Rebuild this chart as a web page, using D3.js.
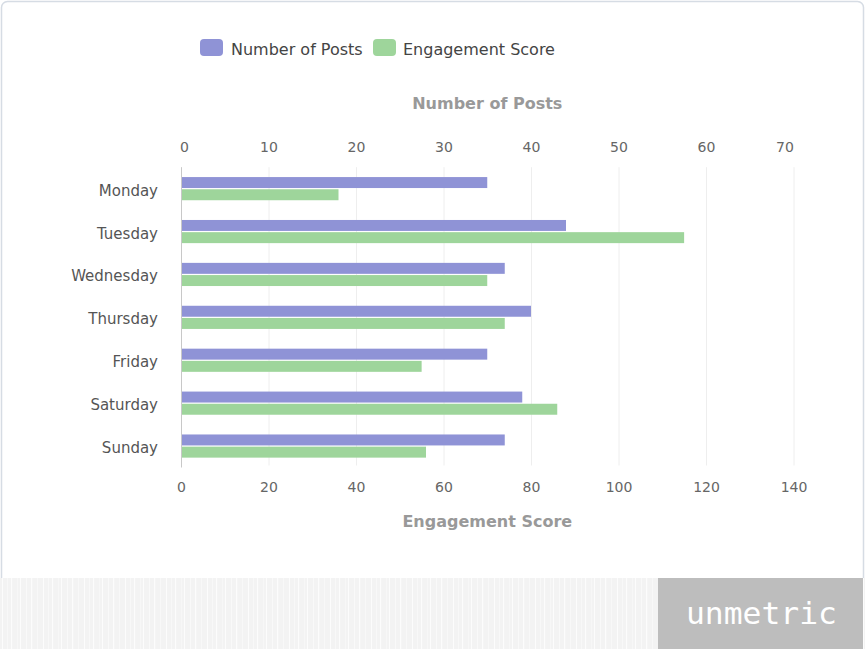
<!DOCTYPE html>
<html>
<head>
<meta charset="utf-8">
<script src="https://cdn.jsdelivr.net/npm/d3@7/dist/d3.min.js"></script>
<style>
  html, body { margin: 0; padding: 0; background: #ffffff; }
  svg { display: block; }
  text { font-family: "DejaVu Sans", "Lucida Grande", Verdana, sans-serif; }
</style>
</head>
<body>
<svg id="chart" width="865" height="649"></svg>
<script>
// ---- data ----
const days = ["Monday", "Tuesday", "Wednesday", "Thursday", "Friday", "Saturday", "Sunday"];
const posts = [35, 44, 37, 40, 35, 39, 37];
const engagement = [36, 115, 70, 74, 55, 86, 56];
const postTicks = [0, 10, 20, 30, 40, 50, 60, 70];
const engTicks = [0, 20, 40, 60, 80, 100, 120, 140];
const seriesNames = ["Number of Posts", "Engagement Score"];
const colors = ["#8f93d6", "#9ed59b"];

const svg = d3.select("#chart");
const W = 865, H = 649;

// ---- frame ----
svg.append("rect")
  .attr("x", 1.5).attr("y", 1.5).attr("width", W - 3).attr("height", 640)
  .attr("rx", 6).attr("fill", "#fff").attr("stroke", "#d6dce4").attr("stroke-width", 1.5);

// ---- bottom strip ----
const defs = svg.append("defs");
const pat = defs.append("pattern").attr("id", "stripes")
  .attr("patternUnits", "userSpaceOnUse").attr("width", 41).attr("height", 80);
pat.append("rect").attr("width", 41).attr("height", 80).attr("fill", "#f3f3f3");
[[2, 1], [7, 0.6], [11, 1.2], [17, 0.5], [20, 1], [26, 0.7], [31, 1.3], [37, 0.6]].forEach(([x, w]) => {
  pat.append("rect").attr("x", x).attr("width", w).attr("height", 80).attr("fill", "#fcfcfc");
});
svg.append("rect").attr("x", 0).attr("y", 578).attr("width", W).attr("height", H - 578)
  .attr("fill", "url(#stripes)");
svg.append("rect").attr("x", 658).attr("y", 578).attr("width", 205).attr("height", H - 578)
  .attr("fill", "#bdbdbd");
svg.append("text").attr("x", 686).attr("y", 624)
  .attr("textLength", 151).attr("lengthAdjust", "spacingAndGlyphs")
  .style("font-family", "'DejaVu Sans Mono', monospace")
  .style("font-size", "31px").attr("fill", "#ffffff").text("unmetric");

// ---- scales ----
const x0 = 181, x1 = 793.5, yTop = 167.2, yBot = 467.5;
const xPosts = d3.scaleLinear().domain([0, 70]).range([x0, x1]);
const xEng = d3.scaleLinear().domain([0, 140]).range([x0, x1]);
const y = d3.scaleBand().domain(days).range([yTop, yBot]).padding(0);
const bw = y.bandwidth();
const ySub = d3.scaleBand().domain([0, 1]).range([bw * 0.23, bw * 0.77]).paddingInner(0.1);

// ---- grid ----
const grid = svg.append("g");
grid.selectAll("line").data(engTicks).join("line")
  .attr("x1", d => xEng(d) + 0.5).attr("x2", d => xEng(d) + 0.5)
  .attr("y1", yTop).attr("y2", yBot - 2)
  .attr("stroke", "#eeeeee").attr("stroke-width", 1);

// ---- bars ----
const rows = days.map((d, i) => ({ day: d, vals: [posts[i], engagement[i]] }));
const g = svg.append("g");
rows.forEach(r => {
  g.append("rect")
    .attr("x", x0).attr("y", y(r.day) + ySub(0))
    .attr("width", xPosts(r.vals[0]) - x0).attr("height", ySub.bandwidth())
    .attr("fill", colors[0]);
  g.append("rect")
    .attr("x", x0).attr("y", y(r.day) + ySub(1))
    .attr("width", xEng(r.vals[1]) - x0).attr("height", ySub.bandwidth())
    .attr("fill", colors[1]);
});

// ---- left axis line ----
svg.append("line").attr("x1", x0 + 0.5).attr("x2", x0 + 0.5).attr("y1", yTop).attr("y2", yBot)
  .attr("stroke", "#c8c8c8").attr("stroke-width", 1);

// ---- category labels ----
svg.append("g").selectAll("text").data(days).join("text")
  .attr("x", 158).attr("y", d => y(d) + bw / 2 + 7)
  .attr("text-anchor", "end").style("font-size", "15px").attr("fill", "#555555")
  .text(d => d);

// ---- top axis (posts) ----
const topAxis = d3.axisTop(xPosts).tickValues(postTicks).tickSize(0).tickPadding(0);
const ta = svg.append("g").attr("transform", "translate(0,152)").call(topAxis);
ta.select(".domain").remove();
ta.selectAll("text").attr("y", 0).attr("dy", 0)
  .style("font-size", "14px").style("font-family", "'DejaVu Sans', sans-serif").attr("fill", "#666666")
  .attr("dx", (d, i) => i === 0 ? 3 : (i === postTicks.length - 1 ? -9 : 0));

// ---- bottom axis (engagement) ----
const botAxis = d3.axisBottom(xEng).tickValues(engTicks).tickSize(0).tickPadding(0);
const ba = svg.append("g").attr("transform", "translate(0,492)").call(botAxis);
ba.select(".domain").remove();
ba.selectAll("text").attr("y", 0).attr("dy", 0)
  .style("font-size", "14px").style("font-family", "'DejaVu Sans', sans-serif").attr("fill", "#666666");

// ---- axis titles ----
svg.append("text").attr("x", (x0 + x1) / 2).attr("y", 109).attr("text-anchor", "middle")
  .style("font-size", "16px").style("font-weight", "bold").attr("fill", "#999999").text("Number of Posts");
svg.append("text").attr("x", (x0 + x1) / 2).attr("y", 527).attr("text-anchor", "middle")
  .style("font-size", "16px").style("font-weight", "bold").attr("fill", "#999999").text("Engagement Score");

// ---- legend ----
const legendX = [200, 373];
const legendTextX = [231, 403];
seriesNames.forEach((n, i) => {
  svg.append("rect").attr("x", legendX[i]).attr("y", 39).attr("width", 23).attr("height", 17)
    .attr("rx", 4).attr("fill", colors[i]);
  svg.append("text").attr("x", legendTextX[i]).attr("y", 55)
    .style("font-size", "16px").attr("fill", "#444444").text(n);
});
</script>
</body>
</html>
